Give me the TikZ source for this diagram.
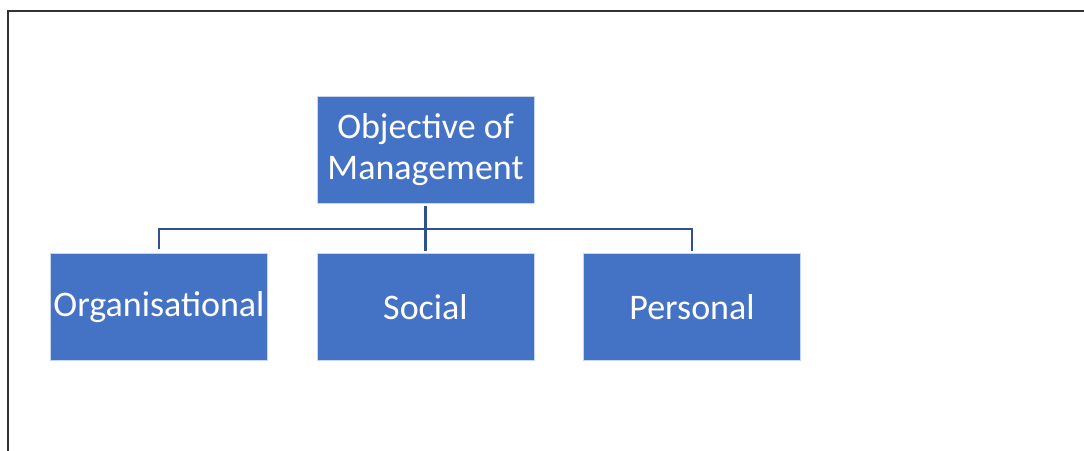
\documentclass[tikz,border=0pt]{standalone}
\usepackage{fontspec}
\setmainfont{Carlito}
\usetikzlibrary{calc}
\definecolor{boxblue}{HTML}{4472C4}
\definecolor{lineblue}{HTML}{2F528F}
\begin{document}
\begin{tikzpicture}[x=1pt,y=-1pt,
	box/.style={fill=boxblue,draw=white!70!boxblue,line width=0.6pt,minimum width=217pt,minimum height=107pt,inner sep=0pt,text=white,align=center,font=\fontsize{36}{41}\selectfont},
	link/.style={draw=lineblue,line width=2.5pt}]
	\useasboundingbox (0,0) rectangle (1084,450);
	\draw[line width=2pt,black!80] (8,451) -- (8,11) -- (1085,11);
	% boxes
	\node[box] (obj) at (425.5,150) {Objective of\\Management};
	\node[box] (org) at (159,307) {Organisational};
	\node[box] (soc) at (425.5,307) {Social};
	\node[box] (pers) at (692,307) {Personal};
	% connectors
	\coordinate (bus) at ($(obj.south)+(0,25)$);
	\draw[link,shorten <=2pt] (org.north) ++(0,-2) |- (bus) -| ($(pers.north)+(0,-2)$);
	\draw[link,shorten <=2pt,shorten >=2pt] (obj.south) -- (soc.north);
\end{tikzpicture}
\end{document}
